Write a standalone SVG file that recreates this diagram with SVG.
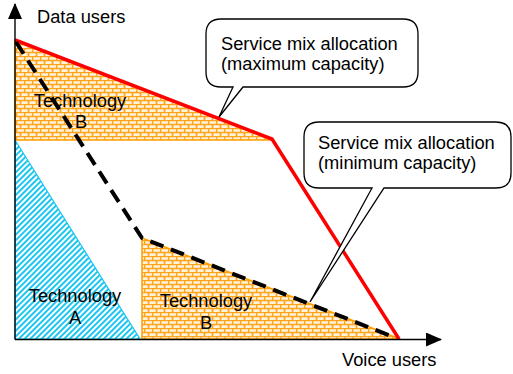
<svg xmlns="http://www.w3.org/2000/svg" width="513" height="374" viewBox="0 0 513 374">
  <style>
    text { font-family: "Liberation Sans", Arial, sans-serif; font-size: 18.3px; fill: #000; }
    .mid { text-anchor: middle; }
    .brick { fill: url(#brick); stroke: #FF9E00; stroke-width: 1.5; }
    .hatch { fill: url(#hatch); stroke: #1CC6F0; stroke-width: 1.2; }
    .axis { fill: none; stroke: #000; stroke-width: 1.4; }
    .maxcap { fill: none; stroke: #FF0000; stroke-width: 3.5; stroke-linejoin: miter; }
    .mincap { fill: none; stroke: #000; stroke-width: 4; stroke-dasharray: 14 8; }
    .callout { fill: #fff; stroke: #000; stroke-width: 1.3; }
  </style>
  <defs>
    <!-- orange brick fill -->
    <pattern id="brick" patternUnits="userSpaceOnUse" width="8" height="8">
      <rect width="8" height="8" fill="#FFF3DC"/>
      <path d="M0,0.5H8M0,4.5H8M0.5,0.5V4.5M4.5,4.5V8.5" stroke="#FFA31A" stroke-width="1.7" fill="none"/>
    </pattern>
    <!-- cyan diagonal hatch -->
    <pattern id="hatch" patternUnits="userSpaceOnUse" width="4" height="4" patternTransform="rotate(45)">
      <rect width="4" height="4" fill="#fff"/>
      <rect width="2" height="4" fill="#1CC6F0"/>
    </pattern>
    <marker id="arrow" viewBox="0 0 16 14" refX="15" refY="7" markerWidth="16" markerHeight="14" markerUnits="userSpaceOnUse" orient="auto">
      <path d="M0,0L16,7L0,14Z" fill="#000"/>
    </marker>
  </defs>

  <!-- technology regions -->
  <g id="tech-b-top">
    <path class="brick" d="M15,40L272,140H15Z"/>
    <text class="mid" x="80" y="107">Technology</text>
    <text class="mid" x="81" y="128">B</text>
  </g>
  <g id="tech-a">
    <path class="hatch" d="M15,140L140,339H15Z"/>
    <text class="mid" x="75" y="302">Technology</text>
    <text class="mid" x="75" y="324">A</text>
  </g>
  <g id="tech-b-bottom">
    <path class="brick" d="M142,238L400,339H142Z"/>
    <text class="mid" x="206" y="307">Technology</text>
    <text class="mid" x="206" y="329">B</text>
  </g>

  <!-- capacity boundaries and axes -->
  <g id="connectors">
    <path class="maxcap" d="M15,40L272,139L399,339"/>
    <path class="mincap" d="M16,42L142,238L396,338"/>
    <path class="axis" d="M15,339.5V4" marker-end="url(#arrow)"/>
    <path class="axis" d="M15,339.5H441" marker-end="url(#arrow)"/>
  </g>

  <g id="axis-labels">
    <text x="37" y="23">Data users</text>
    <text x="342" y="366">Voice users</text>
  </g>

  <!-- callouts -->
  <g id="callout-max">
    <path class="callout" d="M221,19H403Q418,19 418,34V72Q418,87 403,87H243L219,117L233,87H221Q206,87 206,72V34Q206,19 221,19Z"/>
    <text x="221" y="50">Service mix allocation</text>
    <text x="221" y="70">(maximum capacity)</text>
  </g>
  <g id="callout-min">
    <path class="callout" d="M319,122H496Q511,122 511,137V173Q511,188 496,188H384L310,302L372,188H319Q304,188 304,173V137Q304,122 319,122Z"/>
    <text x="318" y="149">Service mix allocation</text>
    <text x="318" y="169">(minimum capacity)</text>
  </g>
</svg>
